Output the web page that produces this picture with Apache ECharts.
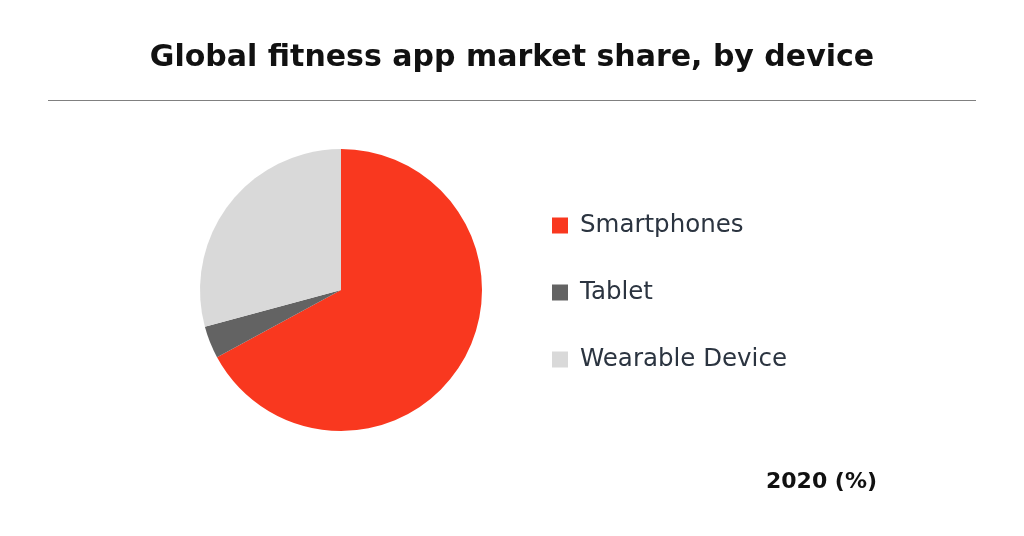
<!DOCTYPE html>
<html>
<head>
    <meta charset="utf-8">
    <title>Global fitness app market share</title>
    <script src="https://cdn.jsdelivr.net/npm/echarts@6/dist/echarts.min.js"></script>
    <style>
        html, body { margin: 0; padding: 0; background: #ffffff; }
        #main { width: 1024px; height: 536px; }
    </style>
</head>
<body>
<div id="main"></div>
<script>
    // 数据
    var devices = ['Smartphones', 'Tablet', 'Wearable Device'];
    var shares = [67.1, 3.7, 29.2];
    var colors = ['#f9381f', '#636363', '#d9d9d9'];

    var chart = echarts.init(document.getElementById('main'));

    var pieData = devices.map(function (name, i) {
        return {name: name, value: shares[i], itemStyle: {color: colors[i]}};
    });

    var option = {
        backgroundColor: '#ffffff',
        animation: false,
        title: {
            text: 'Global fitness app market share, by device',
            left: 'center',
            top: 38,
            textStyle: {
                fontFamily: 'DejaVu Sans',
                fontWeight: 'bold',
                fontSize: 30,
                color: '#111111'
            }
        },
        legend: {
            orient: 'vertical',
            left: 547,
            top: 208,
            itemWidth: 16,
            itemHeight: 16,
            itemGap: 42,
            icon: 'rect',
            textStyle: {
                fontFamily: 'DejaVu Sans',
                fontSize: 24.5,
                lineHeight: 25,
                color: '#2b3440',
                padding: [0, 0, 0, 7]
            },
            data: devices
        },
        graphic: [
            {
                type: 'line',
                shape: {x1: 48, y1: 100.5, x2: 976, y2: 100.5},
                style: {stroke: '#808080', lineWidth: 1}
            },
            {
                type: 'text',
                right: 147,
                top: 471,
                style: {
                    text: '2020 (%)',
                    font: 'bold 22px "DejaVu Sans"',
                    fill: '#111111'
                }
            }
        ],
        series: [{
            type: 'pie',
            center: [341, 290],
            radius: 141,
            startAngle: 90,
            label: {show: false},
            labelLine: {show: false},
            emphasis: {disabled: true},
            data: pieData
        }]
    };
    chart.setOption(option);

    window.onresize = function () {
        chart.resize();
    }
</script>
</body>
</html>
